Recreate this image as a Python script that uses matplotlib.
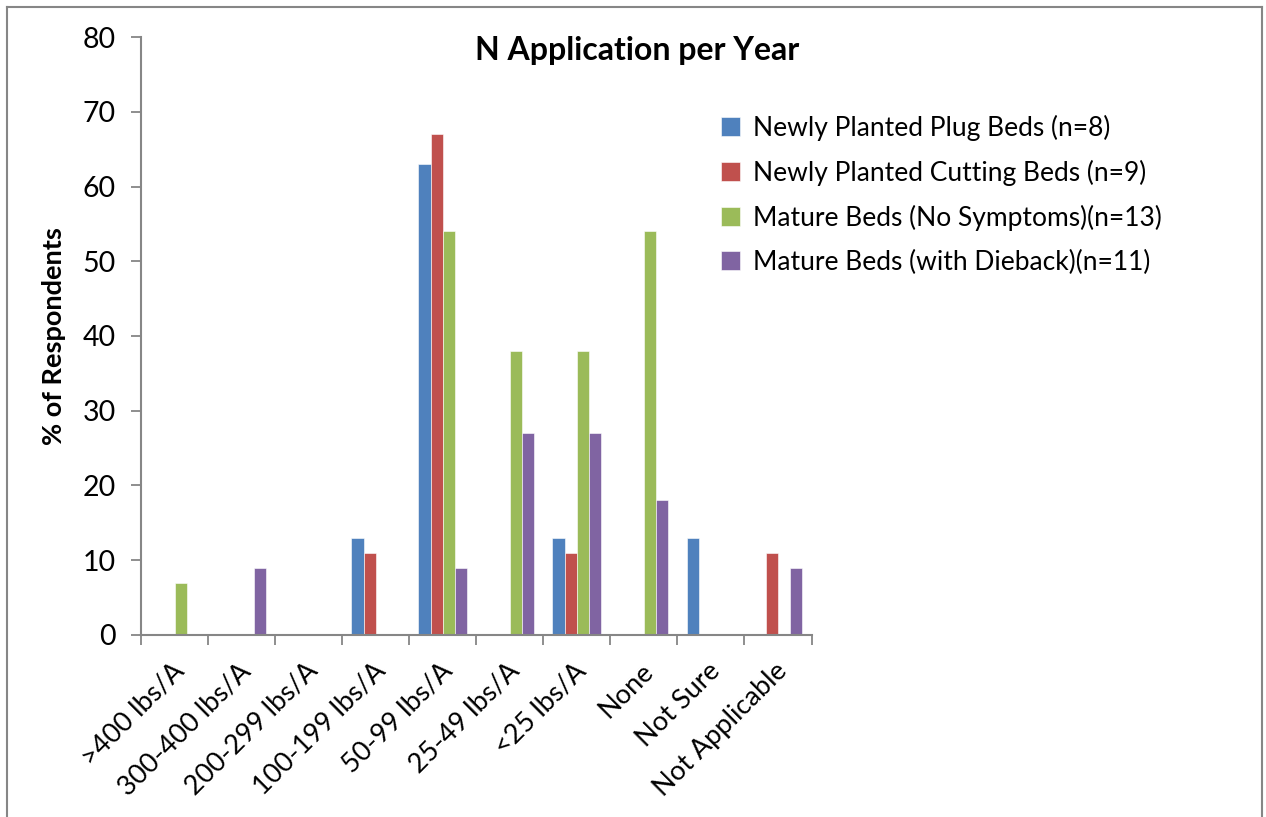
import numpy as np
import matplotlib.pyplot as plt
from matplotlib.lines import Line2D

categories = ['>400 lbs/A', '300-400 lbs/A', '200-299 lbs/A', '100-199 lbs/A', '50-99 lbs/A',
              '25-49 lbs/A', '<25 lbs/A', 'None', 'Not Sure', 'Not Applicable']

plug_beds = [0, 0, 0, 13, 63, 0, 13, 0, 13, 0]
cutting_beds = [0, 0, 0, 11, 67, 0, 11, 0, 0, 11]
mature_no_symptoms = [7, 0, 0, 0, 54, 38, 38, 54, 0, 0]
mature_dieback = [0, 9, 0, 0, 9, 27, 27, 18, 0, 9]

series_names = ['Newly Planted Plug Beds (n=8)', 'Newly Planted Cutting Beds (n=9)',
                'Mature Beds (No Symptoms)(n=13)', 'Mature Beds (with Dieback)(n=11)']
colors = ['#4F81BD', '#C0504D', '#9BBB59', '#8064A2']

plt.rcParams['font.family'] = ['Lato', 'DejaVu Sans']

fig = plt.figure(figsize=(12.66, 8.17), dpi=100)
ax = fig.add_axes([0.1114, 0.2228, 0.5296, 0.7319])

x = np.arange(len(categories))
w = 1 / 5.5
series = [plug_beds, cutting_beds, mature_no_symptoms, mature_dieback]
for i, vals in enumerate(series):
    ax.bar(x + (i - 1.5) * w, vals, width=w, color=colors[i], label=series_names[i],
           edgecolor='white', linewidth=0.4)

ax.set_xlim(-0.5, len(categories) - 0.5)
ax.set_ylim(0, 80)
ax.set_yticks(range(0, 81, 10))
ax.set_xticks(np.arange(len(categories) + 1) - 0.5, minor=False)
ax.set_xticklabels([])
# rotated category labels, right end near the group centre
for i, c in enumerate(categories):
    ax.text(i - 0.05, -3.1, c, rotation=45, ha='right', va='top', rotation_mode='anchor',
            fontsize=19.5)

for s in ['top', 'right']:
    ax.spines[s].set_visible(False)
for s in ['left', 'bottom']:
    ax.spines[s].set_color('#868686')
    ax.spines[s].set_linewidth(1.5)
ax.tick_params(axis='y', direction='out', length=7, color='#868686', width=1.3, labelsize=20.5, pad=11)
ax.tick_params(axis='x', direction='out', length=7, color='#868686', width=1.3)

ax.set_ylabel('% of Respondents', fontsize=19.5, fontweight='bold', labelpad=12)
fig.text(0.503, 0.938, 'N Application per Year', ha='center', va='center',
         fontsize=23, fontweight='bold')

fig.legend(loc='upper left', bbox_to_anchor=(0.551, 0.889), frameon=False, fontsize=19,
           handlelength=0.7, handleheight=0.7, handletextpad=0.5, labelspacing=0.72)

# chart border
border = dict(color='#868686', linewidth=1.5, transform=fig.transFigure)
fig.add_artist(Line2D([0.0055, 0.0055], [0, 0.9915], **border))
fig.add_artist(Line2D([0.0055, 0.997], [0.9915, 0.9915], **border))
fig.add_artist(Line2D([0.997, 0.997], [0, 0.9915], **border))

fig.savefig('out.png', dpi=100)
